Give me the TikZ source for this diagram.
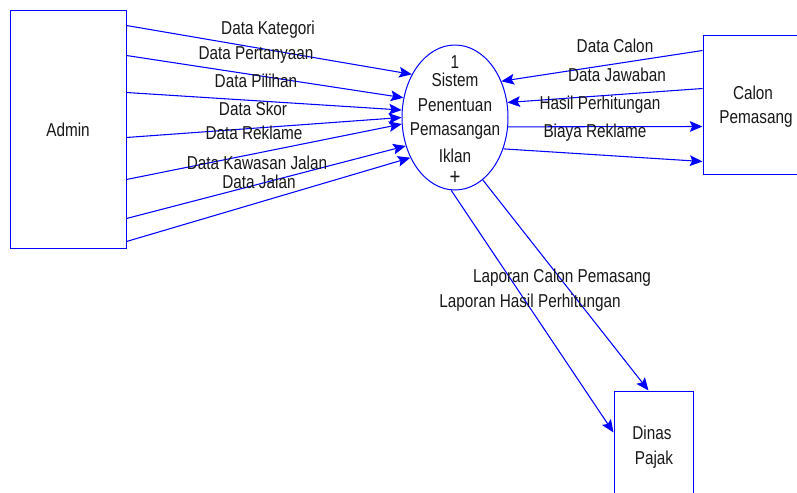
\documentclass[tikz,border=0pt]{standalone}
\usepackage{fontspec}
\setmainfont{Liberation Sans}[FakeStretch=0.82]
\usetikzlibrary{arrows.meta,shapes.geometric}
\begin{document}
\begin{tikzpicture}[x=0.75pt,y=-0.75pt,
  ent/.style={draw=blue,line width=0.75pt,rectangle,inner sep=0pt},
  proc/.style={draw=blue,line width=0.75pt,ellipse,inner sep=0pt,minimum width=79.5pt,minimum height=108.75pt},
  flow/.style={draw=blue,line width=0.8pt,-{Stealth[length=9.5pt,width=8pt,inset=1.8pt]}},
  lbl/.style={inner sep=0pt,font=\fontsize{14pt}{16pt}\selectfont,text=black!90}]
\clip (0,0) rectangle (797,493);
\fill[white] (0,0) rectangle (797,493);
% entities
\node[ent,minimum width=87pt,minimum height=178.5pt] (admin) at (68,129) {};
\node[lbl] (admint) at (68,130) {Admin};
\node[ent,minimum width=80.25pt,minimum height=104.25pt] (calon) at (756.5,104.5) {};
\node[lbl] (calont1) at (753,93) {Calon};
\node[lbl] (calont2) at (756,119) {Pemasang};
\node[ent,minimum width=59.25pt,minimum height=96.75pt] (dinas) at (653.5,455.5) {};
\node[lbl] (dinast1) at (652,433) {Dinas};
\node[lbl] (dinast2) at (654,460) {Pajak};
% process
\node[proc] (p) at (455,117.5) {};
\node[lbl] (pn) at (455,62) {1};
\node[lbl] (pt1) at (455,80) {Sistem};
\node[lbl] (pt2) at (455,105) {Penentuan};
\node[lbl] (pt3) at (455,131) {Pemasangan};
\node[lbl] (pt4) at (455,156) {Iklan};
\node[lbl,font=\fontsize{17pt}{18pt}\selectfont] (pplus) at (455,177.5) {+};
% admin flows
\draw[flow] ([yshift=-12pt]admin.north east) -- (p.135);
\draw[flow] ([yshift=-34.5pt]admin.north east) -- (p.159);
\draw[flow] ([yshift=-62.25pt]admin.north east) -- (p.172);
\draw[flow] ([yshift=-96pt]admin.north east) -- (p.180);
\draw[flow] ([yshift=-127.5pt]admin.north east) -- (p.187);
\draw[flow] ([yshift=-156.75pt]admin.north east) -- (p.210);
\draw[flow] ([yshift=-174pt]admin.north east) -- (p.222);
\node[lbl] (l1) at (268,30) {Data Kategori};
\node[lbl] (l2) at (256,55) {Data Pertanyaan};
\node[lbl] (l3) at (256,81) {Data Pilihan};
\node[lbl] (l4) at (253,109) {Data Skor};
\node[lbl] (l5) at (254,133) {Data Reklame};
\node[lbl] (l6) at (257,163) {Data Kawasan Jalan};
\node[lbl] (l7) at (259,182) {Data Jalan};
% calon flows
\draw[flow] ([yshift=-12pt]calon.north west) -- (p.38);
\draw[flow] ([yshift=-40.5pt]calon.north west) -- (p.16);
\draw[flow] (p.350) -- ([yshift=-69pt]calon.north west);
\draw[flow] (p.327) -- ([yshift=-95.25pt]calon.north west);
\node[lbl] (r1) at (615,46) {Data Calon};
\node[lbl] (r2) at (617,75) {Data Jawaban};
\node[lbl] (r3) at (600,105) {Hasil Perhitungan};
\node[lbl] (r4) at (595,133) {Biaya Reklame};
% dinas flows
\draw[flow] (p.267.6) -- ([yshift=-31.5pt]dinas.north west);
\draw[flow] (p.294) -- ([xshift=26.25pt]dinas.north west);
\node[lbl] (b1) at (562,278) {Laporan Calon Pemasang};
\node[lbl] (b2) at (530,303) {Laporan Hasil Perhitungan};
\end{tikzpicture}
\end{document}
